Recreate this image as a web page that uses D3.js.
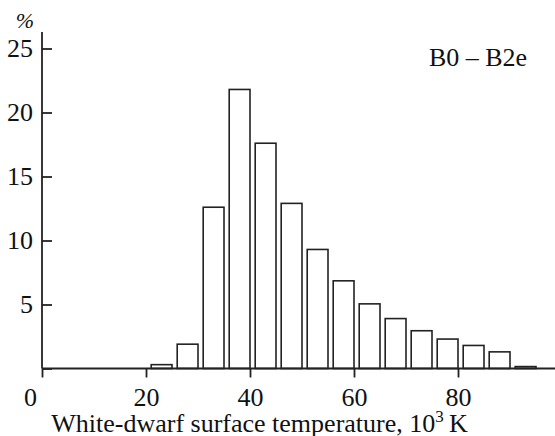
<!DOCTYPE html>
<html>
<head>
<meta charset="utf-8">
<title>White-dwarf temperature histogram</title>
<style type="text/css">
	body {
		margin: 0px;
		background-color: #fff;
	}
</style>
<script src="https://d3js.org/d3.v7.min.js"></script>
</head>
<body>
<script type="text/javascript">
// bins start (10^3 K), each 5 wide
var binStarts = [20, 25, 30, 35, 40, 45, 50, 55, 60, 65, 70, 75, 80, 85, 90];
// percent of stars in each bin
var percents = [0.3, 1.9, 12.6, 21.8, 17.6, 12.9, 9.3, 6.85, 5.05, 3.9, 2.95, 2.3, 1.8, 1.3, 0.15];
var xTicks = [0, 20, 40, 60, 80];
var yTicks = [0, 5, 10, 15, 20, 25];

var serif = "'Liberation Serif', 'Times New Roman', Times, serif";
var width = 555, height = 436;
var svg = d3.select("body").append("svg")
	.attr("width", width)
	.attr("height", height)
	.attr("font-family", serif);

var x = d3.scaleLinear().domain([0, 80]).range([42, 458]);
var y = d3.scaleLinear().domain([0, 25]).range([368.5, 48.5]);

// bars
svg.selectAll("rect.bar")
	.data(binStarts)
	.enter()
		.append("rect")
		.attr("class", "bar")
		.attr("x", function(d) { return x(d + 1); })
		.attr("width", function(d) { return x(d + 5) - x(d + 1); })
		.attr("y", function(d, i) { return y(percents[i]); })
		.attr("height", function(d, i) { return y(0) - y(percents[i]); })
		.style("fill", "#fff")
		.style("stroke", "#222")
		.style("stroke-width", 1.6);

// x axis
var xAxis = svg.append("g")
	.attr("transform", "translate(0," + y(0) + ")")
	.call(d3.axisBottom(x).tickValues(xTicks).tickSize(9).tickPadding(10).tickSizeOuter(0));
xAxis.attr("font-family", serif);
xAxis.select(".domain").remove();
xAxis.append("line")
	.attr("x1", x(0)).attr("x2", width)
	.attr("y1", 0).attr("y2", 0)
	.style("stroke", "#222").style("stroke-width", 1.8);
xAxis.selectAll(".tick line").style("stroke", "#222").style("stroke-width", 1.8);
xAxis.selectAll(".tick text")
	.attr("font-size", 26)
	.attr("fill", "#111")
	.attr("dx", function(d) { return d === 0 ? -12 : 0; });

// y axis
var yAxis = svg.append("g")
	.attr("transform", "translate(" + x(0) + ",0)")
	.call(d3.axisLeft(y).tickValues(yTicks).tickSize(-10).tickPadding(9).tickSizeOuter(0));
yAxis.attr("font-family", serif);
yAxis.select(".domain").remove();
yAxis.append("line")
	.attr("x1", 0).attr("x2", 0)
	.attr("y1", 32).attr("y2", y(0))
	.style("stroke", "#222").style("stroke-width", 1.8);
yAxis.selectAll(".tick line").style("stroke", "#222").style("stroke-width", 1.8);
yAxis.selectAll(".tick text")
	.attr("font-size", 26)
	.attr("fill", "#111")
	.text(function(d) { return d === 0 ? "" : d; });

// labels
svg.append("text")
	.attr("x", 25).attr("y", 28)
	.attr("text-anchor", "middle")
	.attr("font-size", 22)
	.attr("font-style", "italic")
	.attr("fill", "#111")
	.text("%");

svg.append("text")
	.attr("x", 478).attr("y", 65.5)
	.attr("text-anchor", "middle")
	.attr("font-size", 26)
	.attr("fill", "#111")
	.text("B0 \u2013 B2e");

var title = svg.append("text")
	.attr("x", 259.5).attr("y", 432)
	.attr("text-anchor", "middle")
	.attr("font-size", 26)
	.attr("fill", "#111")
	.text("White-dwarf surface temperature, 10");
title.append("tspan").attr("font-size", 17).attr("dy", -10).text("3");
title.append("tspan").attr("dy", 10).text("\u2009K");
</script>
</body>
</html>
